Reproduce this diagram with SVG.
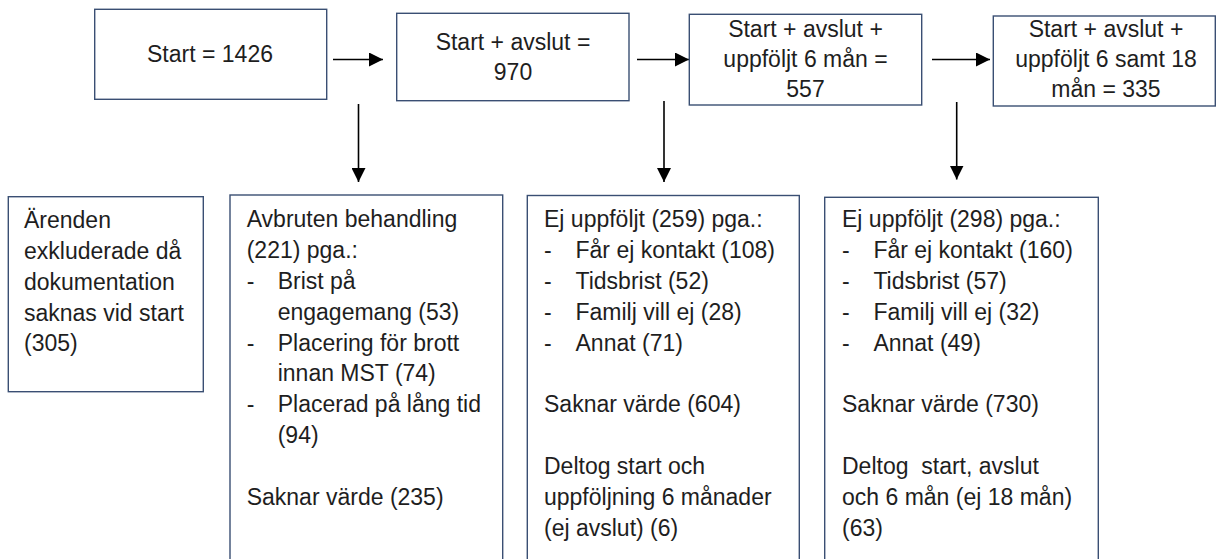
<svg xmlns="http://www.w3.org/2000/svg" width="1218" height="559" viewBox="0 0 1218 559">
<style>
.box{fill:#ffffff;stroke:#3a4f73;stroke-width:1.4}
.t{font-family:"Liberation Sans",Arial,sans-serif;font-size:23px;fill:#1e1e1e}
.c{text-anchor:middle}
.pre{white-space:pre}
.conn{stroke:#000;stroke-width:1.6;fill:none}
</style>
<defs>
<marker id="ah" viewBox="0 0 10 10" refX="10" refY="5" markerWidth="14" markerHeight="14" markerUnits="userSpaceOnUse" orient="auto">
<path d="M0,0 L10,5 L0,10 Z" fill="#000"/>
</marker>
</defs>
<rect width="1218" height="559" fill="#ffffff"/>

<g id="connectors">
<line class="conn" x1="333" y1="59.5" x2="383" y2="59.5" marker-end="url(#ah)"/>
<line class="conn" x1="637" y1="59.5" x2="689" y2="59.5" marker-end="url(#ah)"/>
<line class="conn" x1="932" y1="59.5" x2="990" y2="59.5" marker-end="url(#ah)"/>
<line class="conn" x1="358.5" y1="104" x2="358.5" y2="182" marker-end="url(#ah)"/>
<line class="conn" x1="664" y1="101" x2="664" y2="182" marker-end="url(#ah)"/>
<line class="conn" x1="956.7" y1="102" x2="956.7" y2="179.5" marker-end="url(#ah)"/>
</g>

<g id="n-start">
<rect class="box" x="94.7" y="9.3" width="232" height="90"/>
<text class="t c" x="210" y="62">Start = 1426</text>
</g>

<g id="n-avslut">
<rect class="box" x="396.7" y="13.3" width="232.3" height="87.4"/>
<text class="t c" x="513" y="50">Start + avslut =</text>
<text class="t c" x="513" y="80">970</text>
</g>

<g id="n-6man">
<rect class="box" x="689.3" y="14.3" width="232.4" height="90.7"/>
<text class="t c" x="805.5" y="36.5">Start + avslut +</text>
<text class="t c" x="805.5" y="66.5">uppföljt 6 mån =</text>
<text class="t c" x="805.5" y="96.5">557</text>
</g>

<g id="n-18man">
<rect class="box" x="993.3" y="16" width="222" height="90"/>
<text class="t c" x="1106" y="37">Start + avslut +</text>
<text class="t c" x="1106" y="67">uppföljt 6 samt 18</text>
<text class="t c" x="1106" y="97">mån = 335</text>
</g>

<g id="n-exkluderade">
<rect class="box" x="8.3" y="196.7" width="195" height="195"/>
<text class="t" x="24" y="228">Ärenden</text>
<text class="t" x="24" y="259">exkluderade då</text>
<text class="t" x="24" y="289.5">dokumentation</text>
<text class="t" x="24" y="320.5">saknas vid start</text>
<text class="t" x="24" y="351">(305)</text>
</g>

<g id="n-avbruten">
<rect class="box" x="230" y="195" width="272.7" height="380"/>
<text class="t" x="246.7" y="227">Avbruten behandling</text>
<text class="t" x="246.7" y="258">(221) pga.:</text>
<text class="t" x="246.7" y="289">-</text>
<text class="t" x="277.7" y="289">Brist på</text>
<text class="t" x="277.7" y="320">engagemang (53)</text>
<text class="t" x="246.7" y="350.5">-</text>
<text class="t" x="277.7" y="350.5">Placering för brott</text>
<text class="t" x="277.7" y="381">innan MST (74)</text>
<text class="t" x="246.7" y="412">-</text>
<text class="t" x="277.7" y="412">Placerad på lång tid</text>
<text class="t" x="277.7" y="443">(94)</text>
<text class="t" x="246.7" y="505">Saknar värde (235)</text>
</g>

<g id="n-ej6">
<rect class="box" x="527.3" y="195.5" width="272" height="380"/>
<text class="t" x="544" y="227">Ej uppföljt (259) pga.:</text>
<text class="t" x="544" y="258">-</text>
<text class="t" x="575.5" y="258">Får ej kontakt (108)</text>
<text class="t" x="544" y="289">-</text>
<text class="t" x="575.5" y="289">Tidsbrist (52)</text>
<text class="t" x="544" y="320">-</text>
<text class="t" x="575.5" y="320">Familj vill ej (28)</text>
<text class="t" x="544" y="350.5">-</text>
<text class="t" x="575.5" y="350.5">Annat (71)</text>
<text class="t" x="544" y="412">Saknar värde (604)</text>
<text class="t" x="544" y="474">Deltog start och</text>
<text class="t" x="544" y="505">uppföljning 6 månader</text>
<text class="t" x="544" y="536">(ej avslut) (6)</text>
</g>

<g id="n-ej18">
<rect class="box" x="824.7" y="197.3" width="273.6" height="380"/>
<text class="t" x="842" y="227">Ej uppföljt (298) pga.:</text>
<text class="t" x="842" y="258">-</text>
<text class="t" x="873.4" y="258">Får ej kontakt (160)</text>
<text class="t" x="842" y="289">-</text>
<text class="t" x="873.4" y="289">Tidsbrist (57)</text>
<text class="t" x="842" y="320">-</text>
<text class="t" x="873.4" y="320">Familj vill ej (32)</text>
<text class="t" x="842" y="350.5">-</text>
<text class="t" x="873.4" y="350.5">Annat (49)</text>
<text class="t" x="842" y="412">Saknar värde (730)</text>
<text class="t pre" x="842" y="474" xml:space="preserve">Deltog  start, avslut</text>
<text class="t" x="842" y="505">och 6 mån (ej 18 mån)</text>
<text class="t" x="842" y="536">(63)</text>
</g>
</svg>
